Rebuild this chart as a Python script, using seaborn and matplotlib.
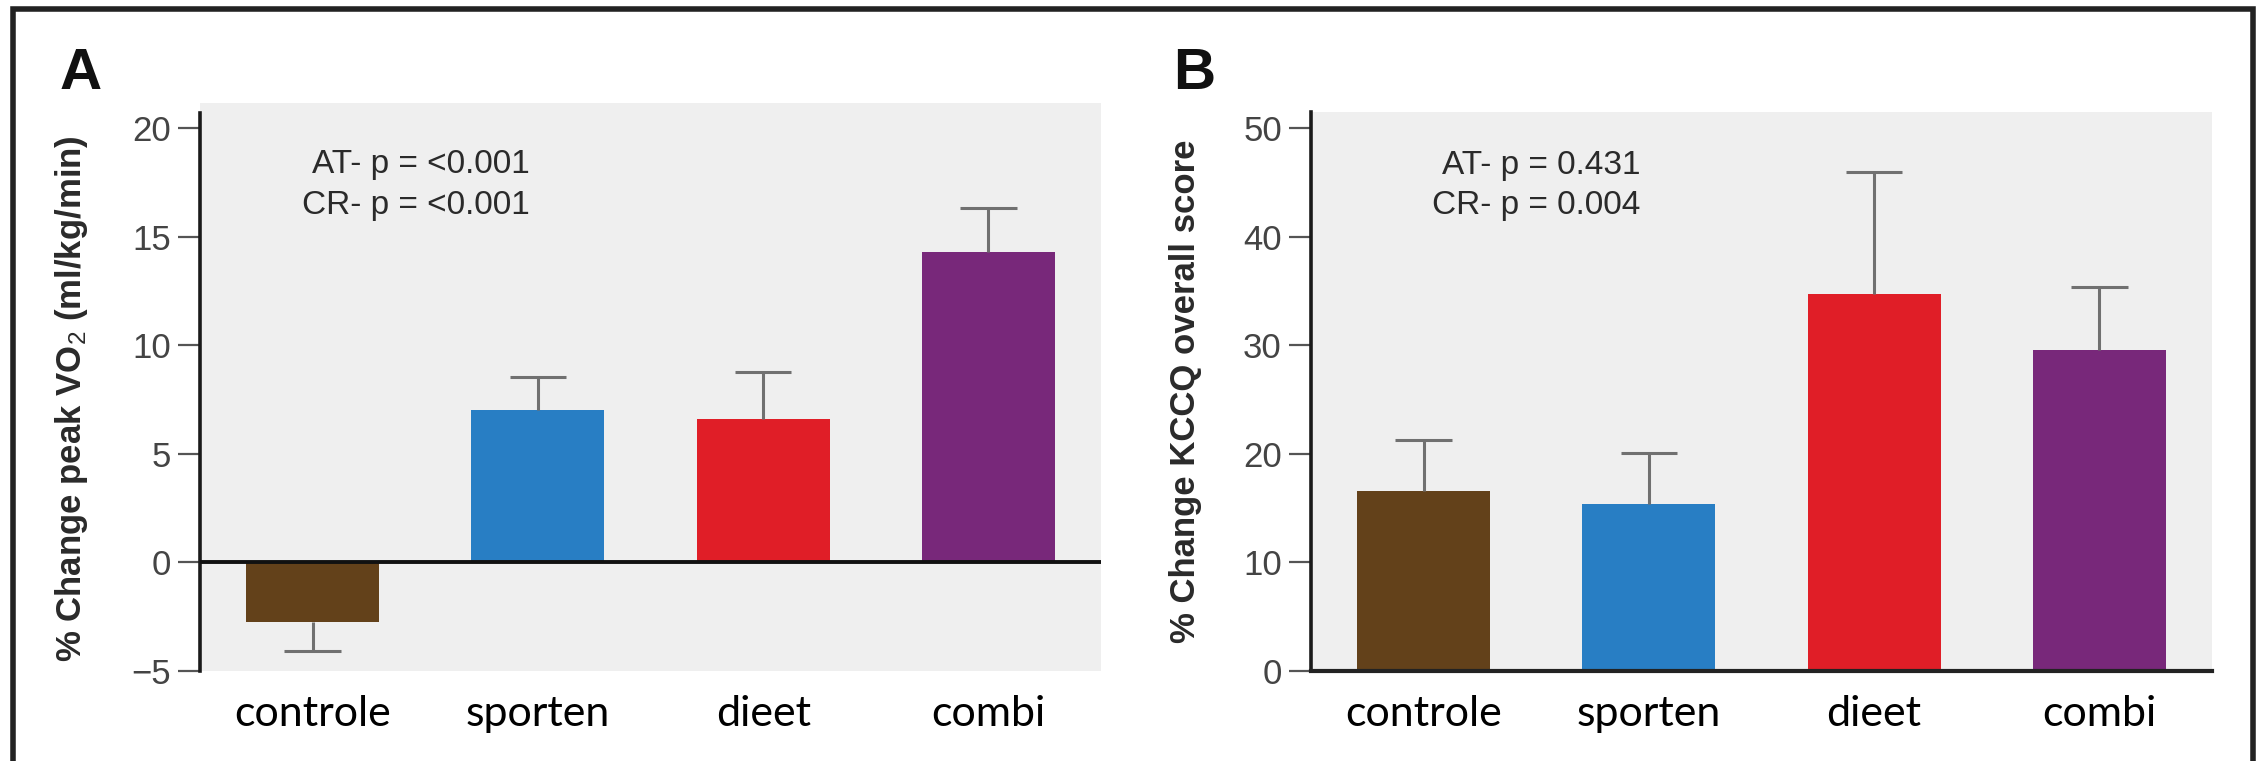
import matplotlib
matplotlib.use("Agg")
import matplotlib.pyplot as plt
from matplotlib import font_manager
from matplotlib.lines import Line2D
import seaborn as sns
import numpy as np
import pandas as pd

# ---- data ----
categories = ["controle", "sporten", "dieet", "combi"]
bar_colors = ["#63411A", "#287EC4", "#E01E27", "#78287A"]

vo2_mean = [-2.75, 7.0, 6.6, 14.3]
vo2_err = [1.33, 1.55, 2.17, 2.0]

kccq_mean = [16.6, 15.4, 34.7, 29.6]
kccq_err = [4.7, 4.7, 11.2, 5.8]

vo2_yticks = [-5, 0, 5, 10, 15, 20]
kccq_yticks = [0, 10, 20, 30, 40, 50]

vo2_ylabel = r"% Change peak VO$_2$ (ml/kg/min)"
kccq_ylabel = "% Change KCCQ overall score"
vo2_notes = ["AT- p = <0.001", "CR- p = <0.001"]
kccq_notes = ["AT- p = 0.431", "CR- p = 0.004"]

sns.set_theme(style="white")
names = {f.name for f in font_manager.fontManager.ttflist}
narrow = "Liberation Sans Narrow" if "Liberation Sans Narrow" in names else "Liberation Sans"
plt.rcParams["font.family"] = ["Liberation Sans", "DejaVu Sans"]
plt.rcParams["mathtext.fontset"] = "custom"
plt.rcParams["mathtext.rm"] = narrow
plt.rcParams["mathtext.it"] = narrow
plt.rcParams["mathtext.bf"] = narrow + ":bold"

W, H = 2259, 761
fig = plt.figure(figsize=(W / 100, H / 100), dpi=100)
fig.patch.set_facecolor("white")

def px_ax(left, right, top, bottom):
    return fig.add_axes([left / W, 1 - bottom / H, (right - left) / W, (bottom - top) / H])

axA = px_ax(200, 1101, 103, 671)
axB = px_ax(1311, 2212, 112, 671)

def draw_panel(ax, means, errs, ylim, yticks, ylabel, notes, note_y, label_xy, spine_top, zero_line):
    df = pd.DataFrame({"cat": categories, "val": means})
    sns.barplot(data=df, x="cat", y="val", hue="cat", palette=bar_colors,
                width=0.59, errorbar=None, legend=False, ax=ax, saturation=1,
                linewidth=0, zorder=2)
    x = np.arange(len(categories))
    m = np.array(means)
    e = np.array(errs)
    tips = np.where(m < 0, m - e, m + e)
    ax.vlines(x, m, tips, color="#707070", lw=2.2, zorder=3)
    ax.hlines(tips, x - 0.125, x + 0.125, color="#707070", lw=2.2, zorder=3)

    ax.set_facecolor("#EFEFEF")
    ax.set_xlim(-0.5, 3.5)
    ax.set_ylim(*ylim)
    ax.set_yticks(yticks)
    ax.set_yticklabels([str(t).replace("-", "\u2212") for t in yticks])
    ax.set_xlabel("")
    ax.set_ylabel(ylabel, fontsize=25, fontweight="bold", color="#2a2a2a",
                  family=narrow)
    ax.yaxis.set_label_coords(*label_xy)
    for s in ["top", "right"]:
        ax.spines[s].set_visible(False)
    ax.spines["left"].set_color("#1a1a1a")
    ax.spines["left"].set_linewidth(2.6)
    ax.spines["left"].set_bounds(ylim[0], spine_top)
    if zero_line:
        ax.spines["bottom"].set_visible(False)
        ax.axhline(0, color="#111111", lw=2.8, zorder=4)
    else:
        ax.spines["bottom"].set_color("#222222")
        ax.spines["bottom"].set_linewidth(3.0)
        ax.spines["bottom"].set_zorder(4)
    ax.tick_params(axis="y", length=16, width=1.6, color="#555555", pad=5,
                   labelsize=25, labelcolor="#444444", left=True)
    ax.tick_params(axis="x", length=0, pad=17, labelsize=31, labelcolor="black")
    for lbl in ax.get_xticklabels():
        lbl.set_fontfamily(["Lato", "DejaVu Sans"])
    for txt, yy in zip(notes, note_y):
        ax.text(0.366, yy, txt, transform=ax.transAxes, ha="right", va="center",
                fontsize=24, color="#2a2a2a")

draw_panel(axA, vo2_mean, vo2_err, (-5, 21.15), vo2_yticks, vo2_ylabel,
           vo2_notes, (0.891, 0.819), (-0.122, 0.48), 20.7, True)
draw_panel(axB, kccq_mean, kccq_err, (0, 51.47), kccq_yticks, kccq_ylabel,
           kccq_notes, (0.905, 0.832), (-0.121, 0.50), 51.47, False)

fig.text(60 / W, 1 - 74 / H, "A", fontsize=42, fontweight="bold", color="#111111",
         ha="left", va="center")
fig.text(1173 / W, 1 - 74 / H, "B", fontsize=42, fontweight="bold", color="#111111",
         ha="left", va="center")

# outer frame (left, top, right)
xl, xr, yt = 13 / W, 2253 / W, 1 - 9 / H
fig.add_artist(Line2D([xl, xl, xr, xr], [0, yt, yt, 0], transform=fig.transFigure,
                      color="#222222", lw=4, solid_joinstyle="miter"))

fig.savefig("out.png", dpi=100, facecolor="white")
